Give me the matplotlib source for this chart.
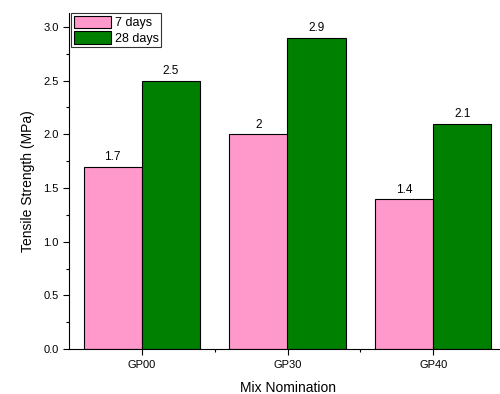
import matplotlib
matplotlib.use('Agg')
import matplotlib.pyplot as plt
import numpy as np
from matplotlib.ticker import MultipleLocator, FixedLocator

plt.rcParams['font.family'] = ['Liberation Sans', 'DejaVu Sans']

# Dados
mixes = ['GP00', 'GP30', 'GP40']
days7 = [1.7, 2.0, 1.4]
days28 = [2.5, 2.9, 2.1]
labels7 = ['1.7', '2', '1.4']
labels28 = ['2.5', '2.9', '2.1']

fig = plt.figure(figsize=(5.0, 3.94), dpi=100)
ax = fig.add_axes([0.138, 0.114, 0.874, 0.853])

x = np.arange(len(mixes))
w = 0.4
b1 = ax.bar(x - w / 2, days7, w, color='#FF99CC', edgecolor='black', linewidth=0.8, label='7 days')
b2 = ax.bar(x + w / 2, days28, w, color='#008000', edgecolor='black', linewidth=0.8, label='28 days')

for bars, labs in [(b1, labels7), (b2, labels28)]:
    for r, t in zip(bars, labs):
        ax.text(r.get_x() + r.get_width() / 2, r.get_height() + 0.03, t,
                ha='center', va='bottom', fontsize=8.5)

ax.set_xlim(-0.5, 2.5)
ax.set_ylim(0, 3.13)
ax.set_xticks(x)
ax.set_xticklabels(mixes, fontsize=8)
ax.xaxis.set_minor_locator(FixedLocator([0.5, 1.5]))
ax.yaxis.set_major_locator(MultipleLocator(0.5))
ax.yaxis.set_minor_locator(MultipleLocator(0.25))
ax.yaxis.set_major_formatter(matplotlib.ticker.FormatStrFormatter('%.1f'))
ax.tick_params(axis='both', which='major', direction='out', length=4, width=0.8, labelsize=8)
ax.tick_params(axis='both', which='minor', direction='out', length=2, width=0.8)

ax.spines['top'].set_visible(False)
ax.spines['right'].set_visible(False)

ax.set_xlabel('Mix Nomination', fontsize=10, labelpad=8)
ax.set_ylabel('Tensile Strength (MPa)', fontsize=10, labelpad=6)

leg = ax.legend(loc='upper left', bbox_to_anchor=(0.005, 1.0), fontsize=9, frameon=True,
                fancybox=False, edgecolor='black', borderpad=0.2, labelspacing=0.15,
                handlelength=3.0, handleheight=1.2, handletextpad=0.3, borderaxespad=0.0)
leg.get_frame().set_linewidth(0.8)

fig.savefig('out.png', dpi=100)
